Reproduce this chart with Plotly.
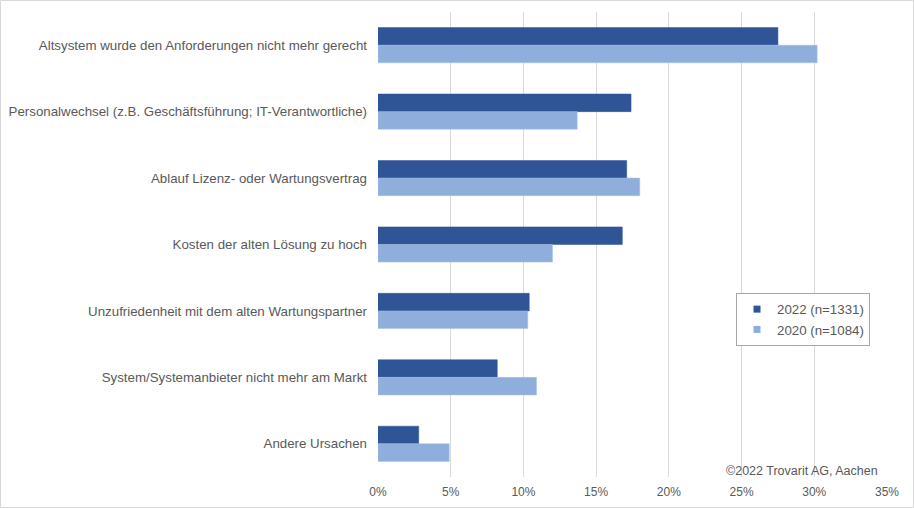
import plotly.graph_objects as go

categories = [
    "Altsystem wurde den Anforderungen nicht mehr gerecht",
    "Personalwechsel (z.B. Geschäftsführung; IT-Verantwortliche)",
    "Ablauf Lizenz- oder Wartungsvertrag",
    "Kosten der alten Lösung zu hoch",
    "Unzufriedenheit mit dem alten Wartungspartner",
    "System/Systemanbieter nicht mehr am Markt",
    "Andere Ursachen",
]
values_2022 = [0.275, 0.174, 0.171, 0.168, 0.104, 0.082, 0.028]
values_2020 = [0.302, 0.137, 0.180, 0.120, 0.103, 0.109, 0.049]
series_names = ["2022 (n=1331)", "2020 (n=1084)"]
series_colors = ["#2F5597", "#8FAEDC"]
tick_vals = [0, 0.05, 0.10, 0.15, 0.20, 0.25, 0.30, 0.35]
tick_text = ["0%", "5%", "10%", "15%", "20%", "25%", "30%", "35%"]

W, H = 914, 508
L, R, T, B = 378, 27, 12, 31
pw, ph = W - L - R, H - T - B

FAM = "Liberation Sans, Arial, sans-serif"
GRAY = "#595959"

fig = go.Figure()
for vals, name, col, edge in [(values_2022, series_names[0], series_colors[0], "#2F5597"),
                              (values_2020, series_names[1], series_colors[1], "#A9C1E6")]:
    fig.add_trace(go.Bar(y=categories, x=vals, name=name, orientation="h", showlegend=False,
                         marker=dict(color=col, line=dict(color=edge, width=0.5))))
# legend entries with small square markers
for name, col in zip(series_names, series_colors):
    fig.add_trace(go.Scatter(x=[None], y=[None], mode="markers", name=name,
                             marker=dict(symbol="square", size=7, color=col), showlegend=True))

fig.update_layout(
    width=W, height=H,
    margin=dict(l=L, r=R, t=T, b=B, autoexpand=False),
    paper_bgcolor="white", plot_bgcolor="white",
    barmode="group", bargap=0.47, bargroupgap=0,
    font=dict(family=FAM, size=13, color=GRAY),
    xaxis=dict(range=[0, 0.35], tickvals=tick_vals, ticktext=tick_text,
               showgrid=True, gridcolor="#D9D9D9", gridwidth=1, zeroline=False,
               showline=False, ticks="", automargin=False, ticklabelstandoff=6,
               tickfont=dict(family=FAM, size=12, color=GRAY), fixedrange=True),
    yaxis=dict(autorange="reversed", showgrid=False, showline=False, ticks="",
               ticklabelstandoff=10, automargin=False,
               tickfont=dict(family=FAM, size=13.3, color=GRAY), fixedrange=True),
    legend=dict(x=(736 - L) / pw, y=(T + ph - 293) / ph, xanchor="left", yanchor="top",
                bordercolor="#A6A6A6", borderwidth=1, bgcolor="white",
                font=dict(family=FAM, size=13.3, color=GRAY), traceorder="normal",
                itemwidth=30, tracegroupgap=0),
    annotations=[dict(text="©2022 Trovarit AG, Aachen", xref="paper", yref="paper",
                      x=(880 - L) / pw, y=(T + ph - 471) / ph, xanchor="right", yanchor="middle",
                      showarrow=False, font=dict(family=FAM, size=12.5, color=GRAY))],
    shapes=[dict(type="rect", xref="paper", yref="paper",
                 x0=(0.5 - L) / pw, x1=(913.5 - L) / pw,
                 y0=(T + ph - 507.5) / ph, y1=(T + ph - 0.5) / ph,
                 line=dict(color="#D9D9D9", width=1), layer="below")],
)

fig.write_html("out.html", config={"displayModeBar": False},
               post_script="document.body.style.margin='0';document.body.style.overflow='hidden';")
